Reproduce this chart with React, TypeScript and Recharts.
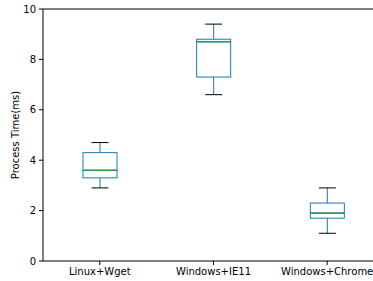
import { ComposedChart, Bar, XAxis, YAxis, ReferenceLine } from 'recharts';

const categories = ['Linux+Wget', 'Windows+IE11', 'Windows+Chrome'];
const mins = [2.9, 6.6, 1.1];
const q1s = [3.3, 7.3, 1.7];
const medians = [3.6, 8.7, 1.9];
const q3s = [4.3, 8.8, 2.3];
const maxs = [4.7, 9.4, 2.9];
const yTicks = [0, 2, 4, 6, 8, 10];

const colors = {
  box: '#1f77b4',
  median: '#2ca02c',
  cap: '#000000',
  axis: '#000000',
};

const font = '"DejaVu Sans", sans-serif';

const data = categories.map((name, i) => ({
  name,
  base: mins[i],
  lowWhisker: q1s[i] - mins[i],
  lowBox: medians[i] - q1s[i],
  highBox: q3s[i] - medians[i],
  highWhisker: maxs[i] - q3s[i],
}));

const LowWhisker = (props: any) => {
  const { x, y, width, height } = props;
  const cx = x + width / 2;
  return (
    <g>
      <line x1={cx} x2={cx} y1={y} y2={y + height} stroke={colors.box} strokeWidth={1} />
      <line x1={cx - width / 4} x2={cx + width / 4} y1={y + height} y2={y + height} stroke={colors.cap} strokeWidth={1} />
    </g>
  );
};

const HighWhisker = (props: any) => {
  const { x, y, width, height } = props;
  const cx = x + width / 2;
  return (
    <g>
      <line x1={cx} x2={cx} y1={y} y2={y + height} stroke={colors.box} strokeWidth={1} />
      <line x1={cx - width / 4} x2={cx + width / 4} y1={y} y2={y} stroke={colors.cap} strokeWidth={1} />
    </g>
  );
};

const LowBox = (props: any) => {
  const { x, y, width, height } = props;
  return <rect x={x} y={y} width={width} height={height} fill="none" stroke={colors.box} strokeWidth={1} />;
};

const HighBox = (props: any) => {
  const { x, y, width, height } = props;
  return (
    <g>
      <rect x={x} y={y} width={width} height={height} fill="none" stroke={colors.box} strokeWidth={1} />
      <line x1={x} x2={x + width} y1={y + height} y2={y + height} stroke={colors.median} strokeWidth={1} />
    </g>
  );
};

const YLabel = () => (
  <text
    x={16}
    y={135}
    transform="rotate(-90 16 135)"
    textAnchor="middle"
    dominantBaseline="middle"
    fontSize={10}
    fontFamily={font}
    fill="#000"
  >
    Process Time(ms)
  </text>
);

export default function App() {
  return (
    <div style={{ position: 'absolute', left: 0, top: 0, width: 373, height: 281, overflow: 'hidden', background: '#fff' }}>
      <ComposedChart
        width={384}
        height={281}
        data={data}
        margin={{ top: 9, right: 0, left: 0, bottom: 0 }}
        barCategoryGap={0}
      >
        <XAxis
          dataKey="name"
          height={20}
          tickSize={4}
          tickMargin={3}
          stroke={colors.axis}
          tick={{ fontSize: 10, fontFamily: font, fill: '#000' }}
          interval={0}
        />
        <YAxis
          type="number"
          domain={[0, 10]}
          ticks={yTicks}
          width={43}
          tickSize={4}
          tickMargin={3}
          stroke={colors.axis}
          tick={{ fontSize: 10, fontFamily: font, fill: '#000' }}
          label={{ content: () => <YLabel /> }}
        />
        <ReferenceLine y={10} stroke={colors.axis} strokeWidth={1} />
        <Bar dataKey="base" stackId="b" fill="none" barSize={34} isAnimationActive={false} />
        <Bar dataKey="lowWhisker" stackId="b" barSize={34} shape={LowWhisker} isAnimationActive={false} />
        <Bar dataKey="lowBox" stackId="b" barSize={34} shape={LowBox} isAnimationActive={false} />
        <Bar dataKey="highBox" stackId="b" barSize={34} shape={HighBox} isAnimationActive={false} />
        <Bar dataKey="highWhisker" stackId="b" barSize={34} shape={HighWhisker} isAnimationActive={false} />
      </ComposedChart>
    </div>
  );
}
